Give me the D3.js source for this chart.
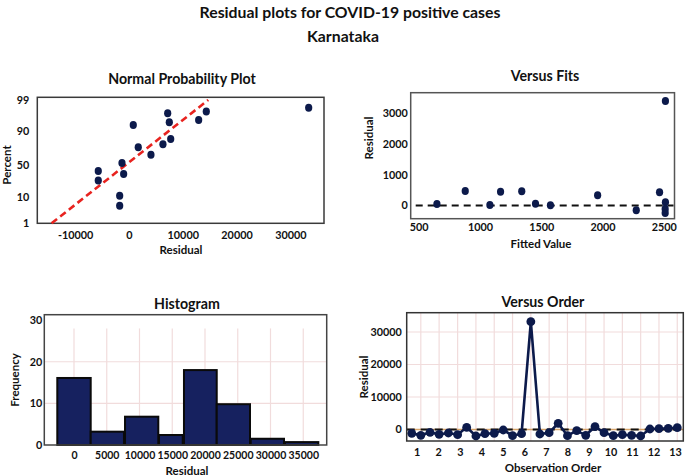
<!DOCTYPE html>
<html><head><meta charset="utf-8">
<script src="https://cdn.jsdelivr.net/npm/d3@7/dist/d3.min.js"></script>
<style>
body{margin:0;background:#fff}
svg{display:block}
text{font-family:Lato,"Open Sans",sans-serif;font-weight:700;fill:#111}
</style>
</head><body>
<svg id="c" width="685" height="476"></svg>
<script>
// ---------------- DATA ----------------
// Normal probability plot
const nppResidual = [-5710,-5710,-1300,-990,-1730,-1730,800,1730,4090,6320,7200,7500,7760,12960,14380,33420];
const nppPercent  = [42.8,30.6,52.7,39,11.3,6.9,91.7,71,62.3,74.3,95.1,92.5,80.4,93.1,95.6,96.7];
const nppFitResidual = [-14400,14750];
const nppFitPercent  = [1,99];
const nppPercentTicks = [1,10,50,90,99];
const nppResidualTicks = [-10000,0,10000,20000,30000];

// Versus fits
const fitsFitted   = [649,880,1081,1168,1341,1453,1575,1960,2275,2465,2513,2513,2511,2511];
const fitsResidual = [49,471,16,448,461,58,6,331,-156,429,3393,104,-114,-244];
const fitsXTicks = [500,1000,1500,2000,2500];
const fitsYTicks = [0,1000,2000,3000];

// Histogram
const histBinStart = [-2550,2550,7790,12980,16790,21790,26980,32210];
const histBinEnd   = [2550,7630,12870,16600,21790,26870,32060,37300];
const histFreq     = [16.1,3.2,6.8,2.4,18,9.8,1.5,0.7];
const histXTicks = [0,5000,10000,15000,20000,25000,30000,35000];
const histYTicks = [0,10,20,30];

// Versus order
const orderX = [0.77,1.19,1.62,2.04,2.47,2.90,3.32,3.75,4.17,4.60,5.02,5.45,5.87,6.30,6.72,
                7.15,7.57,8.00,8.43,8.85,9.28,9.70,10.13,10.55,10.98,11.40,11.83,12.25,12.68,13.10];
const orderResidual = [-1170,-1785,-860,-1480,-1080,-1600,680,-2000,-1290,-1170,-150,-1900,-1290,33170,-1380,
                       -985,1900,-1900,-370,-1785,860,-985,-1900,-1600,-1785,-2000,150,250,370,550];
const orderXTicks = [1,2,3,4,5,6,7,8,9,10,11,12,13];
const orderYTicks = [0,10000,20000,30000];

// ---------------- DRAW ----------------
const NAVY = "#0c1a4b";
const fmt = d => String(d);   // plain hyphen for negatives
const svg = d3.select("#c");
svg.append("rect").attr("width",685).attr("height",476).attr("fill","#fff");

function txt(x,y,t,size,rot){
  const e = svg.append("text")
    .attr("text-anchor","middle").attr("dominant-baseline","central")
    .style("font-size",size+"px").text(t);
  if(rot) e.attr("transform",`translate(${x},${y}) rotate(-90)`);
  else e.attr("x",x).attr("y",y);
  return e;
}
function styleAxis(g,size){
  g.select(".domain").remove();
  g.selectAll("line").remove();
  g.selectAll("text").style("font-size",size+"px").attr("fill","#151515")
    .style("font-family","Lato, 'Open Sans', sans-serif").style("font-weight","700");
}
function frame(b,color,w){
  svg.append("rect").attr("x",b.l).attr("y",b.t).attr("width",b.r-b.l).attr("height",b.b-b.t)
    .attr("fill","none").attr("stroke",color).attr("stroke-width",w);
}

// Main titles
txt(350,11,"Residual plots for COVID-19 positive cases",15.8);
txt(343,35,"Karnataka",15.8);

// ===== Normal Probability Plot =====
{
  const b = {l:37.3,t:97.3,r:324,b:223.3};
  const h = b.b-b.t;
  const x = d3.scaleLinear().domain([-17050,36270]).range([b.l,b.r]);
  const y = d3.scaleLinear().domain(nppPercentTicks)
              .range([b.t+h*1.0,b.t+h*0.789,b.t+h*0.54,b.t+h*0.265,b.t+h*0.021]);
  frame(b,"#3a3a3a",1.5);
  svg.append("line")
    .attr("x1",x(nppFitResidual[0])).attr("y1",y(nppFitPercent[0]))
    .attr("x2",x(nppFitResidual[1])).attr("y2",y(nppFitPercent[1]))
    .attr("stroke","#e8231f").attr("stroke-width",2.6).attr("stroke-dasharray","7,4");
  svg.append("g").selectAll("ellipse").data(nppResidual).join("ellipse")
    .attr("cx",(d,i)=>x(d)).attr("cy",(d,i)=>y(nppPercent[i]))
    .attr("rx",3.6).attr("ry",4).attr("fill",NAVY);
  const gy = svg.append("g").attr("transform",`translate(${b.l},0)`)
    .call(d3.axisLeft(y).tickValues(nppPercentTicks).tickSize(0).tickPadding(8).tickFormat(fmt));
  styleAxis(gy,10.8);
  const gx = svg.append("g").attr("transform",`translate(0,${b.b})`)
    .call(d3.axisBottom(x).tickValues(nppResidualTicks).tickSize(0).tickPadding(8).tickFormat(fmt));
  styleAxis(gx,10.8);
  txt(182,78,"Normal Probability Plot",14.2);
  txt(6,165,"Percent",11.5,true);
  txt(181,249,"Residual",11.5);
}

// ===== Versus Fits =====
{
  const b = {l:410.7,t:92.7,r:674.5,b:218.7};
  const x = d3.scaleLinear().domain([435,2587]).range([b.l,b.r]);
  const y = d3.scaleLinear().domain([-428,3662]).range([b.b,b.t]);
  frame(b,"#555",1.5);
  svg.append("line").attr("x1",b.l+5).attr("x2",b.r-1).attr("y1",y(0)).attr("y2",y(0))
    .attr("stroke","#111").attr("stroke-width",1.8).attr("stroke-dasharray","7,5");
  svg.append("g").selectAll("ellipse").data(fitsFitted).join("ellipse")
    .attr("cx",d=>x(d)).attr("cy",(d,i)=>y(fitsResidual[i]))
    .attr("rx",3.6).attr("ry",4).attr("fill",NAVY);
  const gy = svg.append("g").attr("transform",`translate(${b.l},0)`)
    .call(d3.axisLeft(y).tickValues(fitsYTicks).tickSize(0).tickPadding(3).tickFormat(fmt));
  styleAxis(gy,10.8);
  const gx = svg.append("g").attr("transform",`translate(0,${b.b})`)
    .call(d3.axisBottom(x).tickValues(fitsXTicks).tickSize(0).tickPadding(5).tickFormat(fmt));
  styleAxis(gx,10.8);
  txt(545,75,"Versus Fits",14.2);
  txt(368,138,"Residual",11.5,true);
  txt(541,243,"Fitted Value",11.5);
}

// ===== Histogram =====
{
  const b = {l:44.3,t:314.7,r:326.7,b:445};
  const x = d3.scaleLinear().domain([-4534,38580]).range([b.l,b.r]);
  const y = d3.scaleLinear().domain([0,31.3]).range([b.b,b.t]);
  const grid = svg.append("g").attr("stroke","#f1dcdc").attr("stroke-width",1.2);
  grid.selectAll("line.v").data(histXTicks).join("line").attr("class","v")
    .attr("x1",d=>x(d)).attr("x2",d=>x(d)).attr("y1",y(28)).attr("y2",b.b);
  grid.selectAll("line.h").data([10,20]).join("line").attr("class","h")
    .attr("x1",b.l).attr("x2",b.r).attr("y1",d=>y(d)).attr("y2",d=>y(d));
  svg.append("g").selectAll("rect").data(histFreq).join("rect")
    .attr("x",(d,i)=>x(histBinStart[i])).attr("width",(d,i)=>x(histBinEnd[i])-x(histBinStart[i]))
    .attr("y",d=>y(d)).attr("height",d=>b.b-y(d))
    .attr("fill","#16215f").attr("stroke","#0a0a0a").attr("stroke-width",2);
  frame(b,"#444",1.5);
  const gy = svg.append("g").attr("transform",`translate(${b.l},0)`)
    .call(d3.axisLeft(y).tickValues(histYTicks).tickSize(0).tickPadding(2).tickFormat(fmt));
  styleAxis(gy,10.8);
  const gx = svg.append("g").attr("transform",`translate(0,${b.b})`)
    .call(d3.axisBottom(x).tickValues(histXTicks).tickSize(0).tickPadding(7).tickFormat(fmt));
  styleAxis(gx,10.5);
  txt(187,303,"Histogram",14.2);
  txt(14,380,"Frequency",11.5,true);
  txt(187,470.5,"Residual",11.5);
}

// ===== Versus Order =====
{
  const b = {l:406.7,t:312.7,r:683.3,b:441};
  const x = d3.scaleLinear().domain([0.535,13.38]).range([b.l,b.r]);
  const y = d3.scaleLinear().domain([-3538,35938]).range([b.b,b.t]);
  const grid = svg.append("g").attr("stroke","#f1dcdc").attr("stroke-width",1.2);
  grid.selectAll("line.v").data(orderX.filter((d,i)=>i%2===1)).join("line").attr("class","v")
    .attr("x1",d=>x(d)).attr("x2",d=>x(d)).attr("y1",b.t).attr("y2",b.b);
  grid.selectAll("line.h").data(orderYTicks.slice(1)).join("line").attr("class","h")
    .attr("x1",b.l).attr("x2",b.r).attr("y1",d=>y(d)).attr("y2",d=>y(d));
  svg.append("line").attr("x1",b.l).attr("x2",b.r).attr("y1",y(0)).attr("y2",y(0))
    .attr("stroke","#d7a56b").attr("stroke-width",1.4);
  svg.append("line").attr("x1",b.l).attr("x2",b.r).attr("y1",y(0)).attr("y2",y(0))
    .attr("stroke","#111").attr("stroke-width",1.8).attr("stroke-dasharray","8,6");
  const line = d3.line().x(d=>x(d[0])).y(d=>y(d[1]));
  svg.append("path").datum(orderX.map((d,i)=>[d,orderResidual[i]]))
    .attr("d",line).attr("fill","none").attr("stroke",NAVY).attr("stroke-width",2.6);
  svg.append("g").selectAll("circle").data(orderX).join("circle")
    .attr("cx",d=>x(d)).attr("cy",(d,i)=>y(orderResidual[i])).attr("r",4.4).attr("fill",NAVY);
  frame(b,"#333",1.5);
  const gy = svg.append("g").attr("transform",`translate(${b.l},0)`)
    .call(d3.axisLeft(y).tickValues(orderYTicks).tickSize(0).tickPadding(5).tickFormat(fmt));
  styleAxis(gy,10.8);
  const gx = svg.append("g").attr("transform",`translate(0,${b.b})`)
    .call(d3.axisBottom(x).tickValues(orderXTicks).tickSize(0).tickPadding(7).tickFormat(fmt));
  styleAxis(gx,10.8);
  txt(543,301,"Versus Order",14.2);
  txt(363,377,"Residual",11.5,true);
  txt(553,467.5,"Observation Order",11.5);
}
</script>
</body></html>
